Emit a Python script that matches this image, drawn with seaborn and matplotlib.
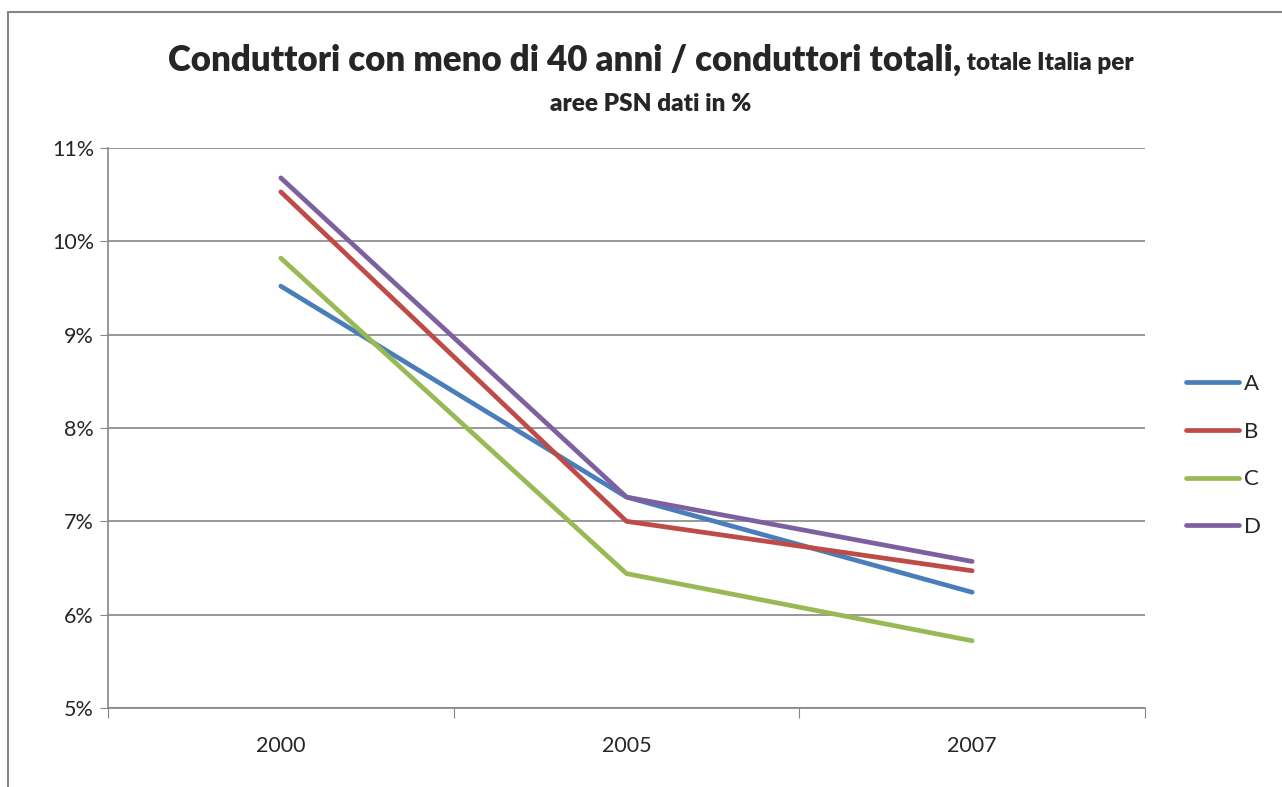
import pandas as pd
import matplotlib
matplotlib.use("Agg")
import matplotlib.pyplot as plt
import seaborn as sns
from matplotlib.patches import Rectangle
from matplotlib.ticker import FixedLocator, FuncFormatter

years = ["2000", "2005", "2007"]
serie_a = [9.52, 7.26, 6.24]
serie_b = [10.53, 7.00, 6.47]
serie_c = [9.82, 6.44, 5.72]
serie_d = [10.68, 7.26, 6.57]
names = ["A", "B", "C", "D"]
colori = ["#4A7EBB", "#BE4B48", "#98B954", "#7D60A0"]

df = pd.DataFrame({
    "anno": years * 4,
    "valore": serie_a + serie_b + serie_c + serie_d,
    "area": [n for n in names for _ in years],
})

sns.set_style("white")
plt.rcParams["font.family"] = ["Lato", "DejaVu Sans"]

fig = plt.figure(figsize=(12.82, 7.87), dpi=100)
ax = fig.add_axes([108 / 1282, 1 - 708 / 787, (1145 - 108) / 1282, (708 - 148) / 787])

sns.lineplot(data=df, x="anno", y="valore", hue="area", palette=colori,
             linewidth=3.4, sort=False, ax=ax, solid_capstyle="round")

ax.set_xlim(-0.5, 2.5)
ax.set_ylim(5, 11)
ax.set_xlabel("")
ax.set_ylabel("")

ax.xaxis.set_major_locator(FixedLocator([-0.5, 0.5, 1.5, 2.5]))
ax.xaxis.set_minor_locator(FixedLocator([0, 1, 2]))
ax.set_xticklabels([], minor=False)
ax.set_xticklabels(years, minor=True)
ax.tick_params(axis="x", which="major", length=7, direction="out", color="#868686", bottom=True)
ax.tick_params(axis="x", which="minor", length=0, labelsize=15.5, pad=20)

ax.set_yticks(range(5, 12))
ax.yaxis.set_major_formatter(FuncFormatter(lambda v, p: f"{int(v)}%"))
ax.tick_params(axis="y", length=6, direction="out", color="#868686", left=True, labelsize=15.5, pad=4)

ax.grid(axis="y", color="#868686", linewidth=1.2)
ax.grid(axis="x", visible=False)
for s in ["top", "right"]:
    ax.spines[s].set_visible(False)
for s in ["left", "bottom"]:
    ax.spines[s].set_color("#868686")
    ax.spines[s].set_linewidth(1.2)

leg = ax.legend(title=None, frameon=False, loc="center left",
                bbox_to_anchor=(1.02, 0.451), fontsize=16, handlelength=2.4,
                labelspacing=1.25, handletextpad=0.2)
for h in leg.get_lines():
    h.set_linewidth(3.4)

# bordo esterno del grafico
fig.patches.append(Rectangle((8 / 1282, -0.01), 1.02, 1 - 12 / 787 + 0.01,
                             transform=fig.transFigure, fill=False,
                             edgecolor="#868686", linewidth=1.5))

# titolo su due righe con dimensioni diverse
fig.canvas.draw()
r = fig.canvas.get_renderer()
t1 = fig.text(0, 1 - 60 / 787, "Conduttori con meno di 40 anni / conduttori totali,",
              fontsize=25, fontweight="heavy", va="center")
t2 = fig.text(0, 1 - 63 / 787, " totale Italia per", fontsize=17.5,
              fontweight="heavy", va="center")
w1 = t1.get_window_extent(r).width / 1282
w2 = t2.get_window_extent(r).width / 1282
x0 = 651 / 1282 - (w1 + w2) / 2
t1.set_x(x0)
t2.set_x(x0 + w1)
fig.text(651 / 1282, 1 - 104 / 787, "aree PSN dati in %", fontsize=17.5,
         fontweight="heavy", ha="center", va="center")

fig.savefig("out.png", dpi=100)
